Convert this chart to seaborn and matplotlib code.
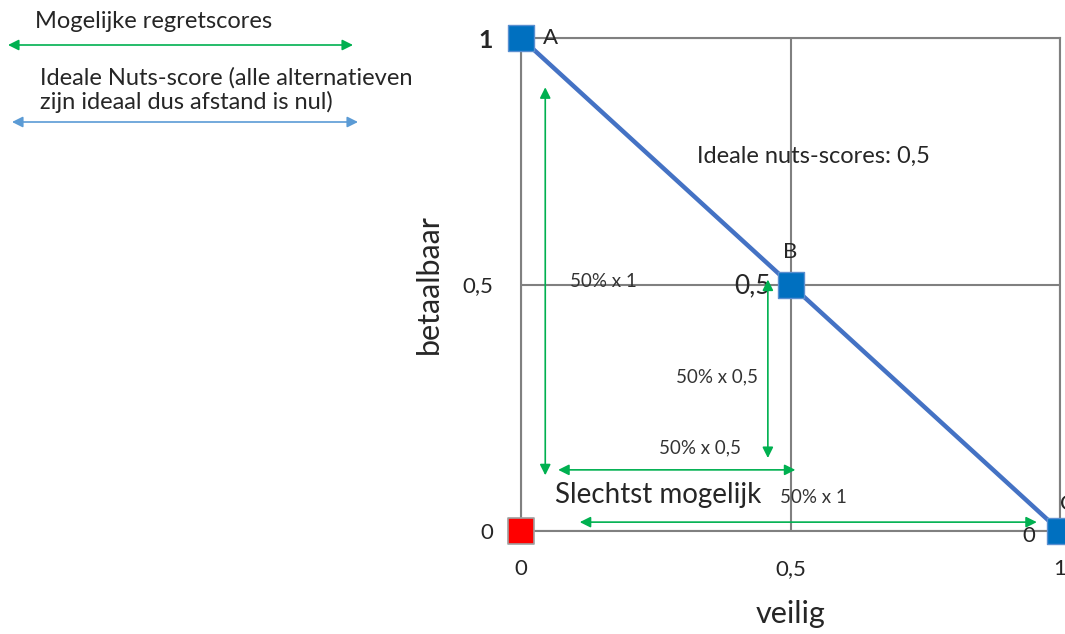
import matplotlib
matplotlib.use("Agg")
import matplotlib.pyplot as plt
import seaborn as sns
import pandas as pd

# ---- data ----
alt_labels = ["A", "B", "C"]
veilig = [0.0, 0.5, 1.0]
betaalbaar = [1.0, 0.5, 0.0]
worst_x = [0.0]
worst_y = [0.0]
tick_vals = [0, 0.5, 1]
tick_labels = ["0", "0,5", "1"]
# regret arrows: (x0, y0, x1, y1)
regret_arrows = [
    (0.045, 0.90, 0.045, 0.113),
    (0.458, 0.51, 0.458, 0.148),
    (0.069, 0.124, 0.509, 0.124),
    (0.109, 0.018, 0.957, 0.018),
]
regret_texts = ["50% x 1", "50% x 0,5", "50% x 0,5", "50% x 1"]
regret_text_pos = [(0.09, 0.507, "left"), (0.44, 0.312, "right"),
                   (0.333, 0.168, "center"), (0.48, 0.068, "left")]

sns.set_style("white")
plt.rcParams["font.family"] = ["Lato", "DejaVu Sans"]

fig = plt.figure(figsize=(10.65, 6.34), dpi=100)
ax = fig.add_axes([521 / 1065, 1 - 531 / 634, (1060 - 521) / 1065, (531 - 38) / 634])

grey = "#808080"
green = "#00B050"
blue_line = "#4472C4"
blue_mark = "#0070C0"

df = pd.DataFrame({"veilig": veilig, "betaalbaar": betaalbaar, "alt": alt_labels})
sns.lineplot(data=df, x="veilig", y="betaalbaar", ax=ax, color=blue_line, lw=3.2,
             zorder=3, clip_on=False)
sns.scatterplot(data=df, x="veilig", y="betaalbaar", ax=ax, marker="s", s=330,
                color=blue_mark, edgecolor="#5B8FD0", linewidth=1, zorder=4, clip_on=False)
sns.scatterplot(x=worst_x, y=worst_y, ax=ax, marker="s", s=330, color="#FF0000",
                edgecolor="#A0A0A0", linewidth=1.2, zorder=4, clip_on=False)

ax.set_xlim(0, 1)
ax.set_ylim(0, 1)
ax.set_xticks(tick_vals)
ax.set_xticklabels(tick_labels)
ax.set_yticks(tick_vals)
ax.set_yticklabels(tick_labels)
ax.tick_params(length=0, labelsize=16)
ax.tick_params(axis="x", pad=20)
ax.tick_params(axis="y", pad=20)
ax.get_yticklabels()[2].set_fontweight("bold")
ax.get_yticklabels()[2].set_fontsize(18)
ax.grid(True, color=grey, lw=1.5)
for sp in ax.spines.values():
    sp.set_color(grey)
    sp.set_linewidth(1.5)
ax.set_xlabel("veilig", fontsize=22, labelpad=15)
ax.set_ylabel("betaalbaar", fontsize=22, labelpad=14)

# point labels
ax.text(0.04, 1.0, "A", fontsize=16, ha="left", va="center")
ax.text(0.5, 0.565, "B", fontsize=16, ha="center", va="center")
ax.text(1.0, 0.055, "C", fontsize=16, ha="left", va="center", clip_on=False)
ax.text(0.463, 0.497, "0,5", fontsize=19, ha="right", va="center")
ax.text(0.955, -0.01, "0", fontsize=16, ha="right", va="center")
ax.text(0.327, 0.759, "Ideale nuts-scores: 0,5", fontsize=17, ha="left", va="center")
ax.text(0.063, 0.073, "Slechtst mogelijk", fontsize=20, ha="left", va="center")

for (x0, y0, x1, y1) in regret_arrows:
    ax.annotate("", xy=(x1, y1), xytext=(x0, y0),
                arrowprops=dict(arrowstyle="<|-|>", color=green, lw=1.2,
                                mutation_scale=16, shrinkA=0, shrinkB=0), zorder=5)
for txt, (tx, ty, ha) in zip(regret_texts, regret_text_pos):
    ax.text(tx, ty, txt, fontsize=13.5, ha=ha, va="center", color="#333333")

# legend area (figure pixels from bottom-left)
H = 634
fig.text(35 / 1065, 1 - 22 / H, "Mogelijke regretscores", fontsize=17, ha="left", va="center")
ax.annotate("", xy=(353, H - 45), xytext=(8, H - 45), xycoords="figure pixels",
            textcoords="figure pixels",
            arrowprops=dict(arrowstyle="<|-|>", color=green, lw=1.2, mutation_scale=16,
                            shrinkA=0, shrinkB=0), annotation_clip=False)
fig.text(40 / 1065, 1 - 90 / H, "Ideale Nuts-score (alle alternatieven\nzijn ideaal dus afstand is nul)",
         fontsize=17, ha="left", va="center", linespacing=1.1)
ax.annotate("", xy=(358, H - 122), xytext=(12, H - 122), xycoords="figure pixels",
            textcoords="figure pixels",
            arrowprops=dict(arrowstyle="<|-|>", color="#5B9BD5", lw=1.2, mutation_scale=16,
                            shrinkA=0, shrinkB=0), annotation_clip=False)

fig.savefig("out.png", dpi=100)
